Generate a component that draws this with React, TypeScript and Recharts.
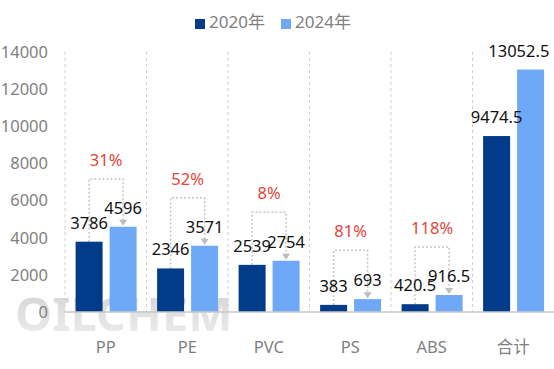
import * as React from "react";
import {
  BarChart,
  Bar,
  XAxis,
  YAxis,
  CartesianGrid,
  Legend,
  LabelList,
} from "recharts";

const categories = ["PP", "PE", "PVC", "PS", "ABS", "合计"];
const values2020 = [3786, 2346, 2539, 383, 420.5, 9474.5];
const values2024 = [4596, 3571, 2754, 693, 916.5, 13052.5];
const growthLabels = ["31%", "52%", "8%", "81%", "118%", ""];
const bracketTops = [7160, 6150, 5370, 3320, 3500, 0];
const yTicks = [0, 2000, 4000, 6000, 8000, 10000, 12000, 14000];

const DARK = "#023b8a";
const LIGHT = "#6ea8f7";
const RED = "#e5443b";
const GREY = "#7f7f7f";
const BAR_GAP = 7;
const W = 554;
const H = 369;

const data = categories.map((name, i) => ({
  name,
  y2020: values2020[i],
  y2024: values2024[i],
  growth: growthLabels[i],
  bracket: bracketTops[i],
}));

// 2020 bar + dotted bracket to the 2024 bar, sized from the bar's own scale
function BracketBar(props: any) {
  const { x, y, width, height, payload } = props;
  const rect = <rect x={x} y={y} width={width} height={height} fill={DARK} />;
  if (!payload.bracket || !payload.y2020) return rect;
  const perUnit = height / payload.y2020;
  const base = y + height;
  const topY = base - payload.bracket * perUnit;
  const x1 = x + width / 2;
  const x2 = x + width + BAR_GAP + width / 2;
  const y2 = base - payload.y2024 * perUnit;
  const line = { stroke: "#c4c4c4", strokeWidth: 1.5, strokeDasharray: "2 2", fill: "none" };
  return (
    <g>
      <polyline points={`${x1},${y} ${x1},${topY} ${x2},${topY} ${x2},${y2 - 5}`} {...line} />
      <polygon points={`${x2 - 4},${y2 - 7} ${x2 + 4},${y2 - 7} ${x2},${y2 - 1}`} fill="#bdbdbd" />
      {rect}
      <text x={(x1 + x2) / 2} y={topY - 13} textAnchor="middle" fill={RED} fontSize={16.5}>
        {payload.growth}
      </text>
    </g>
  );
}

// value label above a bar, kept inside the picture at the right edge
function ValueLabel(props: any) {
  const { x, y, width, value } = props;
  const text = String(value);
  const half = (text.length * 9.2) / 2;
  const cx = Math.min(x + width / 2, W - 3 - half);
  return (
    <text x={cx} y={y - 13} textAnchor="middle" fill="#111" fontSize={16.5}>
      {text}
    </text>
  );
}

export default function App() {
  return (
    <div
      style={{
        position: "absolute",
        left: 0,
        top: 0,
        width: W,
        height: H,
        fontFamily: '"Noto Sans", "Noto Sans CJK SC", sans-serif',
        background: "#fff",
      }}
    >
      <div
        style={{
          position: "absolute",
          left: 15,
          top: 281,
          fontSize: 47,
          fontWeight: 700,
          background: "linear-gradient(#d0d0d0, #f0f0f0)",
          WebkitBackgroundClip: "text",
          color: "transparent",
          pointerEvents: "none",
        }}
      >
        OILCHEM
      </div>
      <BarChart
        width={W}
        height={H}
        data={data}
        margin={{ top: 52, right: 0, left: 0, bottom: 0 }}
        barCategoryGap={10.6}
        barGap={BAR_GAP}
      >
        <CartesianGrid
          horizontal={false}
          stroke="#d0d0d0"
          strokeDasharray="3 3"
          verticalCoordinatesGenerator={({ offset }: any) =>
            categories.map((_, i) => offset.left + (i * offset.width) / categories.length)
          }
        />
        <XAxis
          dataKey="name"
          height={57}
          tickLine={false}
          tickSize={0}
          tickMargin={29}
          axisLine={{ stroke: "#c8c8c8", strokeWidth: 1.5 }}
          tick={{ fontSize: 16.5, fill: GREY }}
        />
        <YAxis
          width={65}
          domain={[0, 14000]}
          ticks={yTicks}
          tickLine={false}
          tickSize={0}
          tickMargin={17}
          axisLine={false}
          tick={{ fontSize: 16.5, fill: GREY }}
        />
        <Legend
          layout="horizontal"
          verticalAlign="middle"
          align="center"
          iconType="square"
          iconSize={10}
          wrapperStyle={{ top: 8, left: 4, width: W }}
          formatter={(value: any) => (
            <span style={{ color: GREY, fontSize: 17, marginRight: 6 }}>{value}</span>
          )}
        />
        <Bar dataKey="y2020" name="2020年" fill={DARK} shape={BracketBar} isAnimationActive={false}>
          <LabelList dataKey="y2020" content={ValueLabel} />
        </Bar>
        <Bar dataKey="y2024" name="2024年" fill={LIGHT} isAnimationActive={false}>
          <LabelList dataKey="y2024" content={ValueLabel} />
        </Bar>
      </BarChart>
    </div>
  );
}
